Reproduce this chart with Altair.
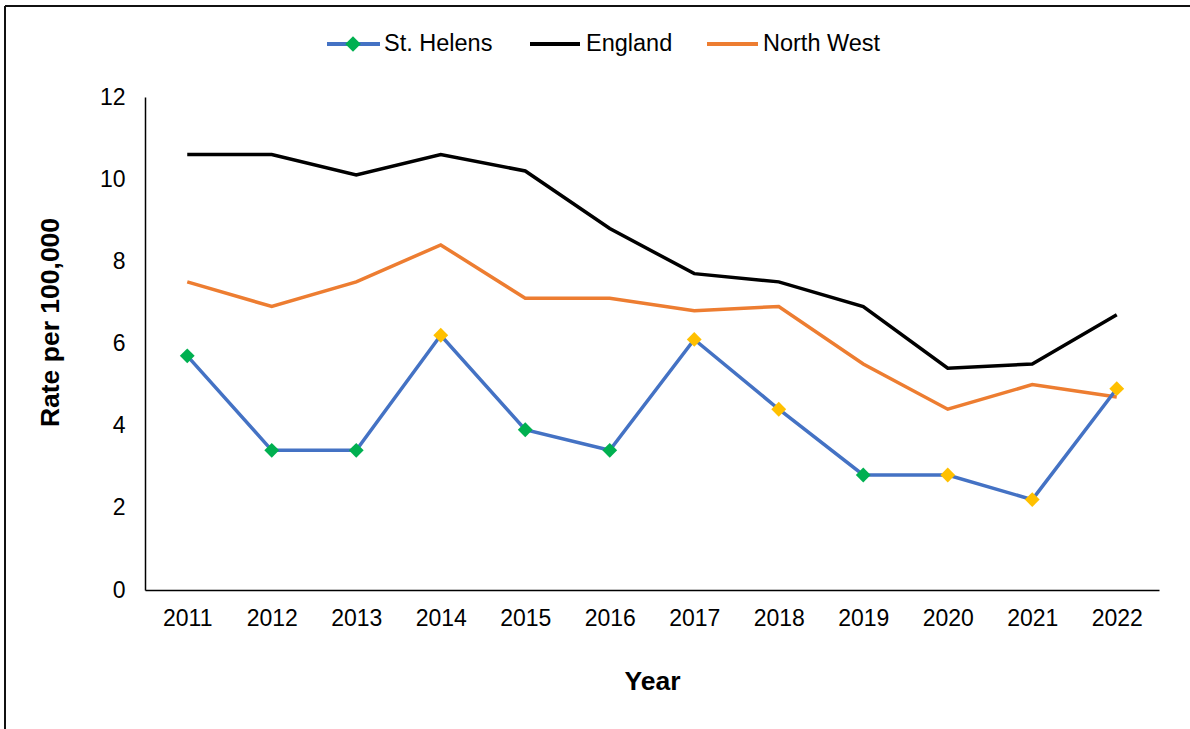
import altair as alt
import pandas as pd

# Rates per 100,000 by year
years = [str(y) for y in range(2011, 2023)]
st_helens = [5.7, 3.4, 3.4, 6.2, 3.9, 3.4, 6.1, 4.4, 2.8, 2.8, 2.2, 4.9]
england = [10.6, 10.6, 10.1, 10.6, 10.2, 8.8, 7.7, 7.5, 6.9, 5.4, 5.5, 6.7]
north_west = [7.5, 6.9, 7.5, 8.4, 7.1, 7.1, 6.8, 6.9, 5.5, 4.4, 5.0, 4.7]
# St. Helens compared with England in each year
comparison = ["Better", "Better", "Better", "Similar", "Better", "Better",
              "Similar", "Similar", "Better", "Similar", "Similar", "Similar"]
series_names = ["St. Helens", "England", "North West"]
y_ticks = [0, 2, 4, 6, 8, 10, 12]

FONT = "Liberation Sans"
BLUE, BLACK, ORANGE = "#4472C4", "#000000", "#ED7D31"
GREEN, AMBER = "#00B050", "#FFC000"

rows = []
for name, vals in zip(series_names, [st_helens, england, north_west]):
    for yr, v in zip(years, vals):
        rows.append({"year": yr, "rate": v, "series": name})
lines_df = pd.DataFrame(rows)
points_df = pd.DataFrame({"year": years, "rate": st_helens, "comparison": comparison})

x_enc = alt.X(
    "year:O",
    scale=alt.Scale(type="point", padding=0.5),
    axis=alt.Axis(
        title="Year", labelAngle=0, ticks=False, labelPadding=17,
        labelFontSize=23, labelFont=FONT, labelColor="#000",
        titleFont=FONT, titleFontSize=26.5, titleFontWeight="bold", titleColor="#000",
        titleY=91, titleBaseline="middle",
        domainColor="#000", domainWidth=1.5, grid=False,
    ),
)
y_enc = alt.Y(
    "rate:Q",
    scale=alt.Scale(domain=[0, 12], nice=False),
    axis=alt.Axis(
        title="Rate per 100,000", values=y_ticks, ticks=False, labelPadding=20,
        labelFontSize=23, labelFont=FONT, labelColor="#000",
        titleFont=FONT, titleFontSize=26.5, titleFontWeight="bold", titleColor="#000",
        titleX=-95, titleY=225, titleAngle=270, titleBaseline="middle", titleAlign="center",
        domainColor="#000", domainWidth=1.5, grid=False,
    ),
)

colour_scale = alt.Scale(domain=series_names, range=[BLUE, BLACK, ORANGE])


def series_line(name):
    return (
        alt.Chart(lines_df)
        .transform_filter(alt.datum.series == name)
        .mark_line(strokeWidth=3.5, strokeJoin="miter")
        .encode(x=x_enc, y=y_enc,
                stroke=alt.Stroke("series:N", scale=colour_scale, legend=None))
    )


points = alt.Chart(points_df).mark_point(
    shape="diamond", filled=True, size=220, opacity=1, strokeWidth=0
).encode(
    x="year:O", y="rate:Q",
    fill=alt.Fill("comparison:N",
                  scale=alt.Scale(domain=["Better", "Similar"], range=[GREEN, AMBER]),
                  legend=None),
)

# Legend drawn above the plot area
one = pd.DataFrame({"k": [0]})
leg_y = -53
legend_layers = []
for name, colour, x0, x1, tx in [
    ("St. Helens", BLUE, 182, 235, 239),
    ("England", BLACK, 385, 435, 441),
    ("North West", ORANGE, 562, 613, 618),
]:
    legend_layers.append(
        alt.Chart(one).mark_rule(color=colour, strokeWidth=4)
        .encode(x=alt.value(x0), x2=alt.value(x1), y=alt.value(leg_y))
    )
    legend_layers.append(
        alt.Chart(pd.DataFrame({"label": [name]}))
        .mark_text(align="left", baseline="middle", font=FONT, fontSize=23.5, color="#000")
        .encode(text="label:N", x=alt.value(tx), y=alt.value(leg_y))
    )
legend_layers.append(
    alt.Chart(one).mark_point(shape="diamond", filled=True, size=240, color=GREEN,
                              opacity=1, strokeWidth=0)
    .encode(x=alt.value(208), y=alt.value(leg_y))
)

# Outer frame (top and left edges)
frame = [
    alt.Chart(one).mark_rule(color="#111", strokeWidth=2)
    .encode(x=alt.value(-140), x2=alt.value(1045), y=alt.value(-91)),
    alt.Chart(one).mark_rule(color="#111", strokeWidth=2)
    .encode(x=alt.value(-140), y=alt.value(-91), y2=alt.value(632)),
]

chart = alt.layer(
    series_line("England"),
    series_line("North West"),
    series_line("St. Helens"),
    points,
    *legend_layers,
    *frame,
).resolve_scale(
    stroke="independent", fill="independent"
).properties(
    width=1014,
    height=493,
    padding={"left": 145, "top": 97, "right": 31, "bottom": 139},
    autosize=alt.AutoSizeParams(type="none"),
    background="white",
).configure_view(stroke=None)

chart.save("out.html", embed_options={"renderer": "svg", "actions": False})
